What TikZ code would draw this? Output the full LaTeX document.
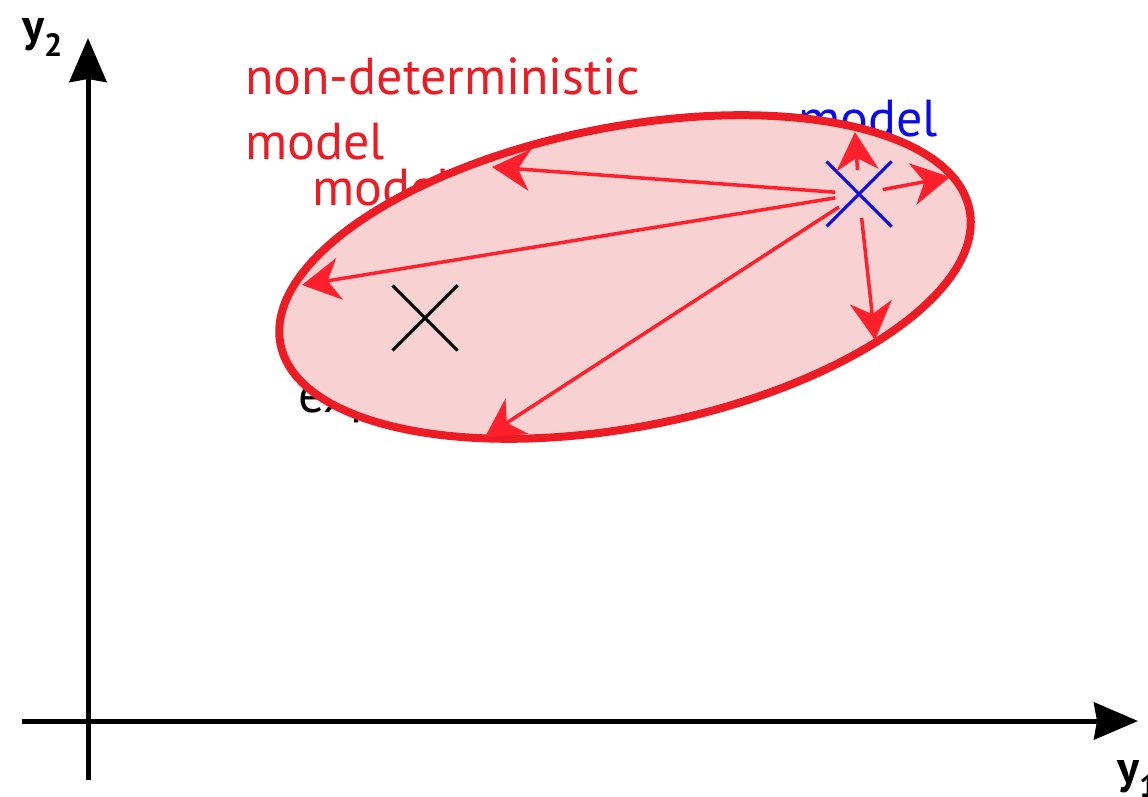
\documentclass[tikz,border=0pt]{standalone}
\usepackage{fontspec}
\setmainfont{PT Sans}
\usetikzlibrary{arrows.meta, shapes.misc, positioning}
\definecolor{spreadRed}{RGB}{237, 28, 36}
\definecolor{arrowRed}{RGB}{255, 32, 44}
\definecolor{cloudFill}{RGB}{248, 209, 211}
\definecolor{modelBlue}{RGB}{10, 10, 240}

\begin{document}
\begin{tikzpicture}[
    x=1pt, y=-1pt,
    axis_line/.style={
        line width=5pt,
        -{Stealth[length=44pt, width=37pt, inset=3pt]}
    },
    axis_label/.style={
        font=\fontsize{46}{50}\selectfont\bfseries,
        anchor=base west,
        inner sep=0pt
    },
    plain_label/.style={
        font=\fontsize{52}{58}\selectfont,
        anchor=base west,
        inner sep=0pt
    },
    spread_cloud/.style={
        line width=8pt,
        draw=spreadRed,
        fill=cloudFill
    },
    spread_arrow/.style={
        line width=3.5pt,
        draw=arrowRed,
        shorten <=24pt,
        -{Stealth[length=38pt, width=42pt, inset=12pt]}
    },
    point_mark/.style={
        cross out,
        draw,
        line width=3pt,
        minimum size=62pt,
        inner sep=0pt
    }
]
    \useasboundingbox (0,0) rectangle (1148,797);

    % Axes
    \coordinate (origin) at (88,721);
    \coordinate (xstart) at (22,721);
    \coordinate (ystart) at (88,780);
    \coordinate (xend) at (1138,721);
    \coordinate (yend) at (88,38);
    \draw[axis_line] (xstart) -- (xend);
    \draw[axis_line] (ystart) -- (yend);
    \node[axis_label] (ylab) at (22,42) {y\textsubscript{2}};
    \node[axis_label] (xlab) at (1117,783) {y\textsubscript{1}};

    % Labels (partly behind the cloud)
    \node[plain_label, text=spreadRed] (ndlab) at (245,95) {non-deterministic};
    \node[plain_label, text=spreadRed] (mdlab) at (245,160) {model};
    \node[plain_label, text=spreadRed] (mdlabb) at (312,205) {model};
    \node[plain_label, text=modelBlue] (modlab) at (798,137) {model};
    \node[plain_label, text=black] (explab) at (298,412) {experiment};

    % Spread of the model
    \draw[spread_cloud, rotate around={11:(625,277)}] (625,277) ellipse [x radius=351, y radius=150];

    % Points
    \node[point_mark, draw=black] (exppt) at (425,318) {};
    \node[point_mark, draw=modelBlue] (modelpt) at (859,194) {};

    % Arrows to the edge
    \coordinate (tipUL) at (492,167);
    \coordinate (tipL) at (302,285);
    \coordinate (tipBL) at (485,437);
    \coordinate (tipU) at (855,132);
    \coordinate (tipR) at (950,177);
    \coordinate (tipD) at (875,340);
    \foreach \t in {tipUL, tipL, tipBL, tipU, tipR, tipD}
        \draw[spread_arrow] (modelpt.center) -- (\t);
\end{tikzpicture}
\end{document}
